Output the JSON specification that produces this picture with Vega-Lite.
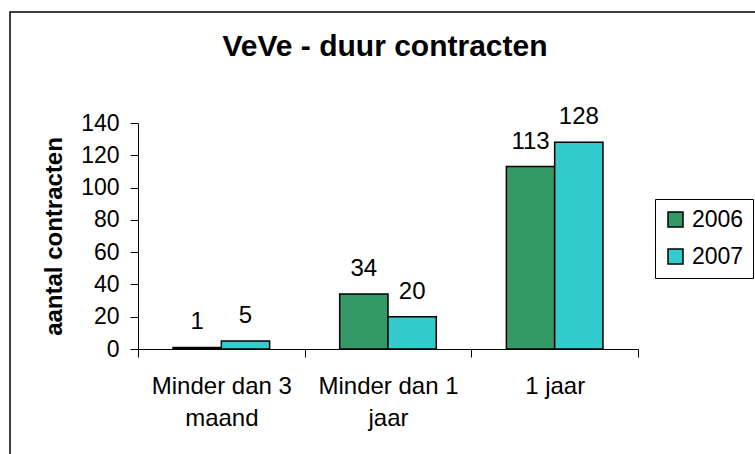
{
  "$schema": "https://vega.github.io/schema/vega-lite/v6.json",
  "width": 760,
  "height": 460,
  "autosize": {"type": "none"},
  "padding": {"left": 10, "top": 12, "right": 0, "bottom": 0},
  "background": "white",
  "config": {
    "view": {"stroke": "#000000", "strokeWidth": 1.5},
    "font": "Liberation Sans"
  },
  "title": {
    "text": "VeVe - duur contracten",
    "fontSize": 30,
    "fontWeight": "bold",
    "font": "Liberation Sans",
    "color": "#000000",
    "offset": -50,
    "anchor": "middle",
    "dx": -5
  },
  "data": {
    "values": [
      {"duur": "Minder dan 3 maand", "jaar": "2006", "aantal": 1},
      {"duur": "Minder dan 3 maand", "jaar": "2007", "aantal": 5},
      {"duur": "Minder dan 1 jaar", "jaar": "2006", "aantal": 34},
      {"duur": "Minder dan 1 jaar", "jaar": "2007", "aantal": 20},
      {"duur": "1 jaar", "jaar": "2006", "aantal": 113},
      {"duur": "1 jaar", "jaar": "2007", "aantal": 128}
    ]
  },
  "encoding": {
    "x": {
      "field": "duur",
      "type": "nominal",
      "sort": ["Minder dan 3 maand", "Minder dan 1 jaar", "1 jaar"],
      "scale": {"range": [128, 628], "paddingInner": 0, "paddingOuter": 0},
      "axis": {
        "offset": -123,
        "title": null,
        "labelAngle": 0,
        "tickBand": "extent",
        "tickSize": 8,
        "tickColor": "#000000",
        "domainColor": "#000000",
        "labelColor": "#000000",
        "labelFontSize": 24,
        "labelPadding": 17,
        "labelLineHeight": 32,
        "labelLimit": 300,
        "labelExpr": "datum.value == 'Minder dan 3 maand' ? ['Minder dan 3', 'maand'] : datum.value == 'Minder dan 1 jaar' ? ['Minder dan 1', 'jaar'] : datum.value"
      }
    },
    "xOffset": {
      "field": "jaar",
      "type": "nominal",
      "scale": {"paddingInner": 0, "paddingOuter": 0.725}
    },
    "y": {
      "field": "aantal",
      "type": "quantitative",
      "scale": {"domain": [0, 140], "range": [337, 111]},
      "axis": {
        "offset": -128,
        "values": [0, 20, 40, 60, 80, 100, 120, 140],
        "grid": false,
        "tickSize": 8,
        "tickColor": "#000000",
        "domainColor": "#000000",
        "labelColor": "#000000",
        "labelFontSize": 23,
        "labelPadding": 11,
        "title": "aantal contracten",
        "titleFontSize": 24,
        "titleFontWeight": "bold",
        "titleColor": "#000000",
        "titlePadding": 14
      }
    }
  },
  "layer": [
    {
      "mark": {"type": "bar", "stroke": "#000000", "strokeWidth": 1.5},
      "encoding": {
        "color": {
          "field": "jaar",
          "type": "nominal",
          "scale": {"range": ["#339966", "#33CCCC"]},
          "legend": {
            "orient": "none",
            "legendX": 645,
            "legendY": 187,
            "title": null,
            "strokeColor": "#000000",
            "fillColor": "#ffffff",
            "padding": 9,
            "symbolType": "square",
            "symbolSize": 225,
            "symbolStrokeColor": "#000000",
            "symbolStrokeWidth": 1.5,
            "symbolOpacity": 1,
            "labelFontSize": 23,
            "labelOffset": 5,
            "labelColor": "#000000",
            "rowPadding": 13
          }
        }
      }
    },
    {
      "mark": {"type": "text", "baseline": "alphabetic", "dy": -18, "fontSize": 24, "color": "#000000"},
      "encoding": {"text": {"field": "aantal", "type": "quantitative"}}
    }
  ]
}
